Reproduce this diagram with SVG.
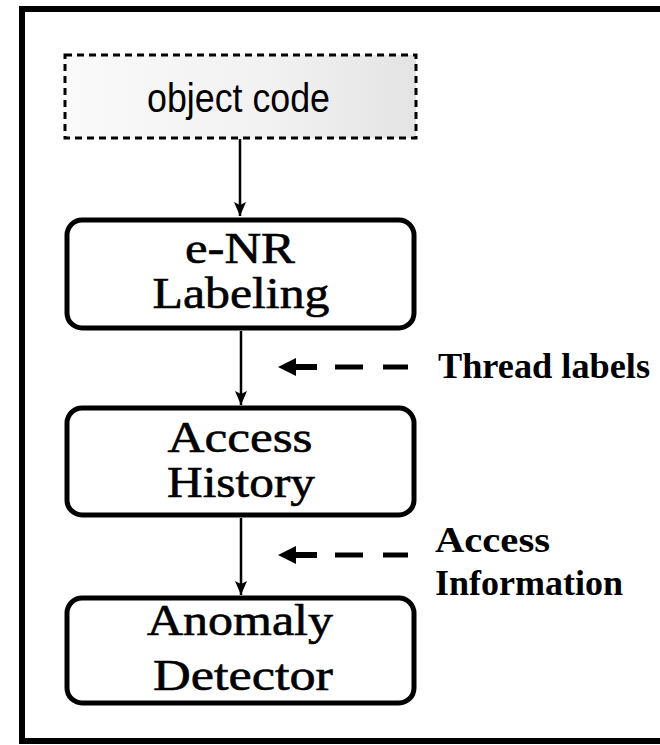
<svg xmlns="http://www.w3.org/2000/svg" width="660" height="745" viewBox="0 0 660 745">
  <defs>
    <linearGradient id="stip" x1="0" y1="0" x2="1" y2="0">
      <stop offset="0" stop-color="#fafafa"/>
      <stop offset="0.6" stop-color="#f1f1f1"/>
      <stop offset="1" stop-color="#e4e4e4"/>
    </linearGradient>
    <marker id="ah" markerWidth="12" markerHeight="14" refX="6" refY="14" orient="0" markerUnits="userSpaceOnUse" viewBox="0 0 12 14">
      <path d="M0,0 L6,3 L12,0 L6,14 Z" fill="#000"/>
    </marker>
    <style>
      .box { fill: #fff; stroke: #000; stroke-width: 5; }
      .node { font-family: "Liberation Serif", "Times New Roman", serif; font-size: 44px; fill: #000; stroke: #000; stroke-width: 0.6; text-anchor: middle; }
      .lbl { font-family: "Liberation Serif", "Times New Roman", serif; font-size: 36px; font-weight: bold; fill: #000; }
      .conn { stroke: #000; stroke-width: 2.5; fill: none; }
      .dash { fill: #000; }
    </style>
  </defs>
  <rect width="660" height="745" fill="#fff"/>
  <path d="M660,9 H22 V741 H660" fill="none" stroke="#000" stroke-width="6"/>

  <g id="object-code">
    <rect x="65" y="55" width="351" height="83" fill="url(#stip)" stroke="#000" stroke-width="3" stroke-dasharray="7,5"/>
    <text x="238.5" y="112" font-family="'Liberation Sans', Arial, sans-serif" font-size="40" text-anchor="middle" textLength="183" lengthAdjust="spacingAndGlyphs">object code</text>
  </g>

  <g id="enr-labeling">
    <rect class="box" x="67" y="220" width="347" height="108" rx="15"/>
    <text class="node" x="240" y="263" textLength="110" lengthAdjust="spacingAndGlyphs">e-NR</text>
    <text class="node" x="241" y="308" textLength="177" lengthAdjust="spacingAndGlyphs">Labeling</text>
  </g>

  <g id="access-history">
    <rect class="box" x="67" y="408" width="347" height="107" rx="15"/>
    <text class="node" x="240" y="452" textLength="145" lengthAdjust="spacingAndGlyphs">Access</text>
    <text class="node" x="241" y="497" textLength="148" lengthAdjust="spacingAndGlyphs">History</text>
  </g>

  <g id="anomaly-detector">
    <rect class="box" x="67" y="598" width="347" height="105" rx="15"/>
    <text class="node" x="240" y="635" textLength="186" lengthAdjust="spacingAndGlyphs">Anomaly</text>
    <text class="node" x="243" y="690" textLength="180" lengthAdjust="spacingAndGlyphs">Detector</text>
  </g>

  <g id="thread-labels">
    <text class="lbl" x="438" y="378" textLength="212" lengthAdjust="spacingAndGlyphs">Thread labels</text>
  </g>

  <g id="access-information">
    <text class="lbl" x="435" y="552" textLength="115" lengthAdjust="spacingAndGlyphs">Access</text>
    <text class="lbl" x="435" y="595" textLength="188" lengthAdjust="spacingAndGlyphs">Information</text>
  </g>

  <g id="connectors">
    <line class="conn" x1="240" y1="139" x2="240" y2="216" marker-end="url(#ah)"/>
    <line class="conn" x1="241" y1="331" x2="241" y2="405" marker-end="url(#ah)"/>
    <line class="conn" x1="241" y1="518" x2="241" y2="595" marker-end="url(#ah)"/>
    <g id="thread-arrow">
      <path class="dash" d="M278,367 L296,358 L296,364 L317,364 L317,370 L296,370 L296,376 Z"/>
      <rect class="dash" x="335" y="364.5" width="28" height="5"/>
      <rect class="dash" x="383" y="364.5" width="25" height="5"/>
    </g>
    <g id="access-arrow">
      <path class="dash" d="M278,555 L296,546 L296,552 L317,552 L317,558 L296,558 L296,564 Z"/>
      <rect class="dash" x="335" y="552.5" width="28" height="5"/>
      <rect class="dash" x="383" y="552.5" width="25" height="5"/>
    </g>
  </g>
</svg>
